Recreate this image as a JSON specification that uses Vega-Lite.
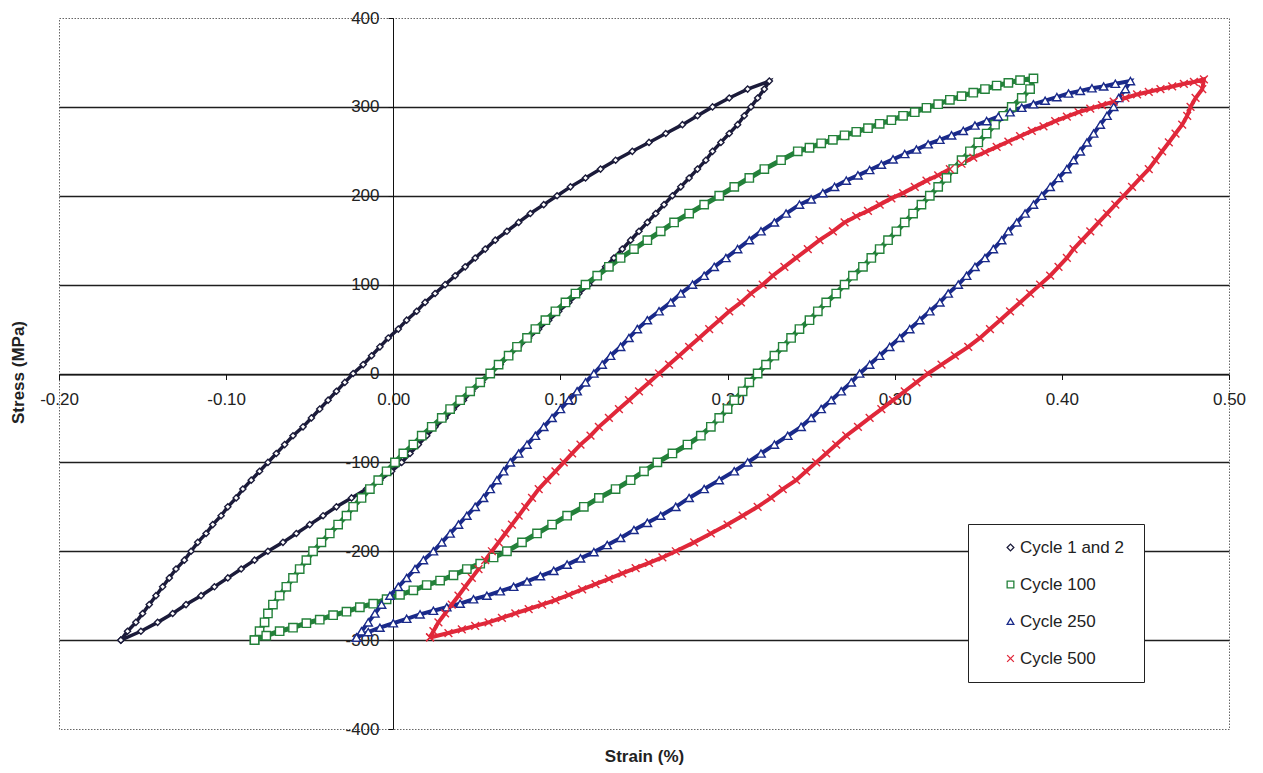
{
"$schema": "https://vega.github.io/schema/vega-lite/v6.json",
"width": 1170, "height": 711,
"autosize": {"type": "none"},
"padding": {"left": 59, "top": 18, "right": 34, "bottom": 44},
"background": "white",
"config": {
 "font": "Liberation Sans",
 "view": {"stroke": "#666", "strokeDash": [1.5, 1.5], "strokeWidth": 1},
 "axis": {"labelFont": "Liberation Sans", "titleFont": "Liberation Sans", "labelFontSize": 17, "labelColor": "#222", "titleColor": "#222", "titleFontSize": 17, "titleFontWeight": "bold"}
},
"data": {"values": [
{"c":"Cycle 1 and 2","x":-0.163,"y":-300},{"c":"Cycle 1 and 2","x":-0.159,"y":-290},{"c":"Cycle 1 and 2","x":-0.154,"y":-280},{"c":"Cycle 1 and 2","x":-0.150,"y":-270},{"c":"Cycle 1 and 2","x":-0.146,"y":-260},{"c":"Cycle 1 and 2","x":-0.142,"y":-250},{"c":"Cycle 1 and 2","x":-0.138,"y":-240},{"c":"Cycle 1 and 2","x":-0.134,"y":-230},{"c":"Cycle 1 and 2","x":-0.130,"y":-220},{"c":"Cycle 1 and 2","x":-0.125,"y":-210},{"c":"Cycle 1 and 2","x":-0.121,"y":-200},{"c":"Cycle 1 and 2","x":-0.117,"y":-190},{"c":"Cycle 1 and 2","x":-0.112,"y":-180},{"c":"Cycle 1 and 2","x":-0.108,"y":-170},{"c":"Cycle 1 and 2","x":-0.103,"y":-160},{"c":"Cycle 1 and 2","x":-0.099,"y":-150},{"c":"Cycle 1 and 2","x":-0.094,"y":-140},{"c":"Cycle 1 and 2","x":-0.090,"y":-130},{"c":"Cycle 1 and 2","x":-0.085,"y":-120},{"c":"Cycle 1 and 2","x":-0.080,"y":-110},{"c":"Cycle 1 and 2","x":-0.075,"y":-100},{"c":"Cycle 1 and 2","x":-0.070,"y":-90},{"c":"Cycle 1 and 2","x":-0.065,"y":-80},{"c":"Cycle 1 and 2","x":-0.060,"y":-70},{"c":"Cycle 1 and 2","x":-0.054,"y":-60},{"c":"Cycle 1 and 2","x":-0.049,"y":-50},{"c":"Cycle 1 and 2","x":-0.044,"y":-40},{"c":"Cycle 1 and 2","x":-0.039,"y":-30},{"c":"Cycle 1 and 2","x":-0.034,"y":-20},{"c":"Cycle 1 and 2","x":-0.029,"y":-10},{"c":"Cycle 1 and 2","x":-0.024,"y":0},{"c":"Cycle 1 and 2","x":-0.018,"y":10},{"c":"Cycle 1 and 2","x":-0.013,"y":20},{"c":"Cycle 1 and 2","x":-0.008,"y":30},{"c":"Cycle 1 and 2","x":-0.003,"y":40},{"c":"Cycle 1 and 2","x":0.003,"y":50},{"c":"Cycle 1 and 2","x":0.008,"y":60},{"c":"Cycle 1 and 2","x":0.014,"y":70},{"c":"Cycle 1 and 2","x":0.019,"y":80},{"c":"Cycle 1 and 2","x":0.025,"y":90},{"c":"Cycle 1 and 2","x":0.031,"y":100},{"c":"Cycle 1 and 2","x":0.037,"y":110},{"c":"Cycle 1 and 2","x":0.043,"y":120},{"c":"Cycle 1 and 2","x":0.049,"y":130},{"c":"Cycle 1 and 2","x":0.055,"y":140},{"c":"Cycle 1 and 2","x":0.061,"y":150},{"c":"Cycle 1 and 2","x":0.068,"y":160},{"c":"Cycle 1 and 2","x":0.075,"y":170},{"c":"Cycle 1 and 2","x":0.082,"y":180},{"c":"Cycle 1 and 2","x":0.090,"y":190},{"c":"Cycle 1 and 2","x":0.098,"y":200},{"c":"Cycle 1 and 2","x":0.106,"y":210},{"c":"Cycle 1 and 2","x":0.115,"y":220},{"c":"Cycle 1 and 2","x":0.124,"y":230},{"c":"Cycle 1 and 2","x":0.133,"y":240},{"c":"Cycle 1 and 2","x":0.143,"y":250},{"c":"Cycle 1 and 2","x":0.153,"y":260},{"c":"Cycle 1 and 2","x":0.163,"y":270},{"c":"Cycle 1 and 2","x":0.173,"y":280},{"c":"Cycle 1 and 2","x":0.182,"y":290},{"c":"Cycle 1 and 2","x":0.191,"y":300},{"c":"Cycle 1 and 2","x":0.201,"y":310},{"c":"Cycle 1 and 2","x":0.212,"y":320},{"c":"Cycle 1 and 2","x":0.225,"y":329},
{"c":"Cycle 1 and 2","x":0.222,"y":320},{"c":"Cycle 1 and 2","x":0.218,"y":310},{"c":"Cycle 1 and 2","x":0.214,"y":300},{"c":"Cycle 1 and 2","x":0.210,"y":290},{"c":"Cycle 1 and 2","x":0.206,"y":280},{"c":"Cycle 1 and 2","x":0.201,"y":270},{"c":"Cycle 1 and 2","x":0.196,"y":260},{"c":"Cycle 1 and 2","x":0.191,"y":250},{"c":"Cycle 1 and 2","x":0.187,"y":240},{"c":"Cycle 1 and 2","x":0.182,"y":230},{"c":"Cycle 1 and 2","x":0.177,"y":220},{"c":"Cycle 1 and 2","x":0.172,"y":210},{"c":"Cycle 1 and 2","x":0.167,"y":200},{"c":"Cycle 1 and 2","x":0.162,"y":190},{"c":"Cycle 1 and 2","x":0.157,"y":180},{"c":"Cycle 1 and 2","x":0.152,"y":170},{"c":"Cycle 1 and 2","x":0.147,"y":160},{"c":"Cycle 1 and 2","x":0.142,"y":150},{"c":"Cycle 1 and 2","x":0.137,"y":140},{"c":"Cycle 1 and 2","x":0.132,"y":130},{"c":"Cycle 1 and 2","x":0.127,"y":120},{"c":"Cycle 1 and 2","x":0.122,"y":110},{"c":"Cycle 1 and 2","x":0.117,"y":100},{"c":"Cycle 1 and 2","x":0.111,"y":90},{"c":"Cycle 1 and 2","x":0.105,"y":80},{"c":"Cycle 1 and 2","x":0.099,"y":70},{"c":"Cycle 1 and 2","x":0.093,"y":60},{"c":"Cycle 1 and 2","x":0.087,"y":50},{"c":"Cycle 1 and 2","x":0.081,"y":40},{"c":"Cycle 1 and 2","x":0.075,"y":30},{"c":"Cycle 1 and 2","x":0.069,"y":20},{"c":"Cycle 1 and 2","x":0.064,"y":10},{"c":"Cycle 1 and 2","x":0.058,"y":0},{"c":"Cycle 1 and 2","x":0.053,"y":-10},{"c":"Cycle 1 and 2","x":0.047,"y":-20},{"c":"Cycle 1 and 2","x":0.042,"y":-30},{"c":"Cycle 1 and 2","x":0.036,"y":-40},{"c":"Cycle 1 and 2","x":0.031,"y":-50},{"c":"Cycle 1 and 2","x":0.025,"y":-60},{"c":"Cycle 1 and 2","x":0.020,"y":-70},{"c":"Cycle 1 and 2","x":0.015,"y":-80},{"c":"Cycle 1 and 2","x":0.010,"y":-90},{"c":"Cycle 1 and 2","x":0.005,"y":-100},{"c":"Cycle 1 and 2","x":-0.001,"y":-110},{"c":"Cycle 1 and 2","x":-0.008,"y":-120},{"c":"Cycle 1 and 2","x":-0.016,"y":-130},{"c":"Cycle 1 and 2","x":-0.025,"y":-140},{"c":"Cycle 1 and 2","x":-0.034,"y":-150},{"c":"Cycle 1 and 2","x":-0.042,"y":-160},{"c":"Cycle 1 and 2","x":-0.050,"y":-170},{"c":"Cycle 1 and 2","x":-0.058,"y":-180},{"c":"Cycle 1 and 2","x":-0.066,"y":-190},{"c":"Cycle 1 and 2","x":-0.075,"y":-200},{"c":"Cycle 1 and 2","x":-0.083,"y":-210},{"c":"Cycle 1 and 2","x":-0.091,"y":-220},{"c":"Cycle 1 and 2","x":-0.099,"y":-230},{"c":"Cycle 1 and 2","x":-0.107,"y":-240},{"c":"Cycle 1 and 2","x":-0.115,"y":-250},{"c":"Cycle 1 and 2","x":-0.124,"y":-260},{"c":"Cycle 1 and 2","x":-0.132,"y":-270},{"c":"Cycle 1 and 2","x":-0.141,"y":-280},{"c":"Cycle 1 and 2","x":-0.151,"y":-290},{"c":"Cycle 1 and 2","x":-0.163,"y":-300},
{"c":"Cycle 100","x":-0.083,"y":-300},{"c":"Cycle 100","x":-0.080,"y":-290},{"c":"Cycle 100","x":-0.077,"y":-280},{"c":"Cycle 100","x":-0.075,"y":-270},{"c":"Cycle 100","x":-0.072,"y":-260},{"c":"Cycle 100","x":-0.068,"y":-250},{"c":"Cycle 100","x":-0.064,"y":-240},{"c":"Cycle 100","x":-0.060,"y":-230},{"c":"Cycle 100","x":-0.056,"y":-220},{"c":"Cycle 100","x":-0.052,"y":-210},{"c":"Cycle 100","x":-0.048,"y":-200},{"c":"Cycle 100","x":-0.043,"y":-190},{"c":"Cycle 100","x":-0.038,"y":-180},{"c":"Cycle 100","x":-0.033,"y":-170},{"c":"Cycle 100","x":-0.028,"y":-160},{"c":"Cycle 100","x":-0.024,"y":-150},{"c":"Cycle 100","x":-0.019,"y":-140},{"c":"Cycle 100","x":-0.014,"y":-130},{"c":"Cycle 100","x":-0.009,"y":-120},{"c":"Cycle 100","x":-0.004,"y":-110},{"c":"Cycle 100","x":0.001,"y":-100},{"c":"Cycle 100","x":0.006,"y":-90},{"c":"Cycle 100","x":0.012,"y":-80},{"c":"Cycle 100","x":0.017,"y":-70},{"c":"Cycle 100","x":0.023,"y":-60},{"c":"Cycle 100","x":0.029,"y":-50},{"c":"Cycle 100","x":0.034,"y":-40},{"c":"Cycle 100","x":0.040,"y":-30},{"c":"Cycle 100","x":0.046,"y":-20},{"c":"Cycle 100","x":0.052,"y":-10},{"c":"Cycle 100","x":0.058,"y":0},{"c":"Cycle 100","x":0.063,"y":10},{"c":"Cycle 100","x":0.069,"y":20},{"c":"Cycle 100","x":0.074,"y":30},{"c":"Cycle 100","x":0.080,"y":40},{"c":"Cycle 100","x":0.085,"y":50},{"c":"Cycle 100","x":0.091,"y":60},{"c":"Cycle 100","x":0.097,"y":70},{"c":"Cycle 100","x":0.103,"y":80},{"c":"Cycle 100","x":0.109,"y":90},{"c":"Cycle 100","x":0.115,"y":100},{"c":"Cycle 100","x":0.122,"y":110},{"c":"Cycle 100","x":0.129,"y":120},{"c":"Cycle 100","x":0.136,"y":130},{"c":"Cycle 100","x":0.144,"y":140},{"c":"Cycle 100","x":0.152,"y":150},{"c":"Cycle 100","x":0.160,"y":160},{"c":"Cycle 100","x":0.168,"y":170},{"c":"Cycle 100","x":0.177,"y":180},{"c":"Cycle 100","x":0.186,"y":190},{"c":"Cycle 100","x":0.195,"y":200},{"c":"Cycle 100","x":0.204,"y":210},{"c":"Cycle 100","x":0.213,"y":220},{"c":"Cycle 100","x":0.222,"y":230},{"c":"Cycle 100","x":0.232,"y":240},{"c":"Cycle 100","x":0.242,"y":250},{"c":"Cycle 100","x":0.249,"y":254},{"c":"Cycle 100","x":0.256,"y":259},{"c":"Cycle 100","x":0.263,"y":263},{"c":"Cycle 100","x":0.270,"y":268},{"c":"Cycle 100","x":0.277,"y":272},{"c":"Cycle 100","x":0.284,"y":276},{"c":"Cycle 100","x":0.291,"y":281},{"c":"Cycle 100","x":0.298,"y":285},{"c":"Cycle 100","x":0.305,"y":290},{"c":"Cycle 100","x":0.312,"y":294},{"c":"Cycle 100","x":0.319,"y":299},{"c":"Cycle 100","x":0.326,"y":303},{"c":"Cycle 100","x":0.333,"y":308},{"c":"Cycle 100","x":0.340,"y":312},{"c":"Cycle 100","x":0.347,"y":316},{"c":"Cycle 100","x":0.354,"y":320},{"c":"Cycle 100","x":0.361,"y":324},{"c":"Cycle 100","x":0.368,"y":327},{"c":"Cycle 100","x":0.375,"y":330},{"c":"Cycle 100","x":0.383,"y":332},
{"c":"Cycle 100","x":0.381,"y":320},{"c":"Cycle 100","x":0.376,"y":310},{"c":"Cycle 100","x":0.370,"y":300},{"c":"Cycle 100","x":0.365,"y":290},{"c":"Cycle 100","x":0.360,"y":280},{"c":"Cycle 100","x":0.355,"y":270},{"c":"Cycle 100","x":0.350,"y":260},{"c":"Cycle 100","x":0.345,"y":250},{"c":"Cycle 100","x":0.340,"y":240},{"c":"Cycle 100","x":0.335,"y":230},{"c":"Cycle 100","x":0.331,"y":220},{"c":"Cycle 100","x":0.326,"y":210},{"c":"Cycle 100","x":0.321,"y":200},{"c":"Cycle 100","x":0.316,"y":190},{"c":"Cycle 100","x":0.311,"y":180},{"c":"Cycle 100","x":0.306,"y":170},{"c":"Cycle 100","x":0.301,"y":160},{"c":"Cycle 100","x":0.296,"y":150},{"c":"Cycle 100","x":0.291,"y":140},{"c":"Cycle 100","x":0.286,"y":130},{"c":"Cycle 100","x":0.281,"y":120},{"c":"Cycle 100","x":0.275,"y":110},{"c":"Cycle 100","x":0.270,"y":100},{"c":"Cycle 100","x":0.265,"y":90},{"c":"Cycle 100","x":0.259,"y":80},{"c":"Cycle 100","x":0.254,"y":70},{"c":"Cycle 100","x":0.249,"y":60},{"c":"Cycle 100","x":0.243,"y":50},{"c":"Cycle 100","x":0.238,"y":40},{"c":"Cycle 100","x":0.233,"y":30},{"c":"Cycle 100","x":0.228,"y":20},{"c":"Cycle 100","x":0.223,"y":10},{"c":"Cycle 100","x":0.218,"y":0},{"c":"Cycle 100","x":0.213,"y":-10},{"c":"Cycle 100","x":0.209,"y":-20},{"c":"Cycle 100","x":0.204,"y":-30},{"c":"Cycle 100","x":0.200,"y":-40},{"c":"Cycle 100","x":0.195,"y":-50},{"c":"Cycle 100","x":0.190,"y":-60},{"c":"Cycle 100","x":0.184,"y":-70},{"c":"Cycle 100","x":0.176,"y":-80},{"c":"Cycle 100","x":0.167,"y":-90},{"c":"Cycle 100","x":0.158,"y":-100},{"c":"Cycle 100","x":0.150,"y":-110},{"c":"Cycle 100","x":0.142,"y":-120},{"c":"Cycle 100","x":0.133,"y":-130},{"c":"Cycle 100","x":0.123,"y":-140},{"c":"Cycle 100","x":0.114,"y":-150},{"c":"Cycle 100","x":0.104,"y":-160},{"c":"Cycle 100","x":0.095,"y":-170},{"c":"Cycle 100","x":0.086,"y":-180},{"c":"Cycle 100","x":0.077,"y":-190},{"c":"Cycle 100","x":0.068,"y":-200},{"c":"Cycle 100","x":0.060,"y":-207},{"c":"Cycle 100","x":0.052,"y":-214},{"c":"Cycle 100","x":0.044,"y":-220},{"c":"Cycle 100","x":0.036,"y":-227},{"c":"Cycle 100","x":0.028,"y":-233},{"c":"Cycle 100","x":0.020,"y":-238},{"c":"Cycle 100","x":0.012,"y":-244},{"c":"Cycle 100","x":0.004,"y":-249},{"c":"Cycle 100","x":-0.004,"y":-254},{"c":"Cycle 100","x":-0.012,"y":-259},{"c":"Cycle 100","x":-0.020,"y":-263},{"c":"Cycle 100","x":-0.028,"y":-268},{"c":"Cycle 100","x":-0.036,"y":-272},{"c":"Cycle 100","x":-0.044,"y":-277},{"c":"Cycle 100","x":-0.052,"y":-281},{"c":"Cycle 100","x":-0.060,"y":-286},{"c":"Cycle 100","x":-0.068,"y":-290},{"c":"Cycle 100","x":-0.076,"y":-295},{"c":"Cycle 100","x":-0.083,"y":-300},
{"c":"Cycle 250","x":-0.022,"y":-297},{"c":"Cycle 250","x":-0.019,"y":-290},{"c":"Cycle 250","x":-0.015,"y":-280},{"c":"Cycle 250","x":-0.011,"y":-270},{"c":"Cycle 250","x":-0.007,"y":-260},{"c":"Cycle 250","x":-0.002,"y":-250},{"c":"Cycle 250","x":0.003,"y":-240},{"c":"Cycle 250","x":0.008,"y":-230},{"c":"Cycle 250","x":0.013,"y":-220},{"c":"Cycle 250","x":0.018,"y":-210},{"c":"Cycle 250","x":0.024,"y":-200},{"c":"Cycle 250","x":0.029,"y":-190},{"c":"Cycle 250","x":0.034,"y":-180},{"c":"Cycle 250","x":0.039,"y":-170},{"c":"Cycle 250","x":0.044,"y":-160},{"c":"Cycle 250","x":0.049,"y":-150},{"c":"Cycle 250","x":0.054,"y":-140},{"c":"Cycle 250","x":0.058,"y":-130},{"c":"Cycle 250","x":0.062,"y":-120},{"c":"Cycle 250","x":0.066,"y":-110},{"c":"Cycle 250","x":0.070,"y":-100},{"c":"Cycle 250","x":0.075,"y":-90},{"c":"Cycle 250","x":0.080,"y":-80},{"c":"Cycle 250","x":0.085,"y":-70},{"c":"Cycle 250","x":0.090,"y":-60},{"c":"Cycle 250","x":0.095,"y":-50},{"c":"Cycle 250","x":0.100,"y":-40},{"c":"Cycle 250","x":0.105,"y":-30},{"c":"Cycle 250","x":0.110,"y":-20},{"c":"Cycle 250","x":0.115,"y":-10},{"c":"Cycle 250","x":0.120,"y":0},{"c":"Cycle 250","x":0.125,"y":10},{"c":"Cycle 250","x":0.130,"y":20},{"c":"Cycle 250","x":0.136,"y":30},{"c":"Cycle 250","x":0.141,"y":40},{"c":"Cycle 250","x":0.146,"y":50},{"c":"Cycle 250","x":0.152,"y":60},{"c":"Cycle 250","x":0.159,"y":70},{"c":"Cycle 250","x":0.166,"y":80},{"c":"Cycle 250","x":0.172,"y":90},{"c":"Cycle 250","x":0.179,"y":100},{"c":"Cycle 250","x":0.186,"y":110},{"c":"Cycle 250","x":0.192,"y":120},{"c":"Cycle 250","x":0.199,"y":130},{"c":"Cycle 250","x":0.206,"y":140},{"c":"Cycle 250","x":0.213,"y":150},{"c":"Cycle 250","x":0.220,"y":160},{"c":"Cycle 250","x":0.228,"y":170},{"c":"Cycle 250","x":0.235,"y":180},{"c":"Cycle 250","x":0.243,"y":190},{"c":"Cycle 250","x":0.250,"y":196},{"c":"Cycle 250","x":0.257,"y":203},{"c":"Cycle 250","x":0.264,"y":210},{"c":"Cycle 250","x":0.271,"y":217},{"c":"Cycle 250","x":0.278,"y":223},{"c":"Cycle 250","x":0.285,"y":229},{"c":"Cycle 250","x":0.292,"y":235},{"c":"Cycle 250","x":0.299,"y":241},{"c":"Cycle 250","x":0.306,"y":247},{"c":"Cycle 250","x":0.313,"y":252},{"c":"Cycle 250","x":0.320,"y":258},{"c":"Cycle 250","x":0.327,"y":263},{"c":"Cycle 250","x":0.334,"y":268},{"c":"Cycle 250","x":0.341,"y":273},{"c":"Cycle 250","x":0.348,"y":279},{"c":"Cycle 250","x":0.355,"y":284},{"c":"Cycle 250","x":0.362,"y":289},{"c":"Cycle 250","x":0.369,"y":294},{"c":"Cycle 250","x":0.376,"y":299},{"c":"Cycle 250","x":0.383,"y":303},{"c":"Cycle 250","x":0.390,"y":307},{"c":"Cycle 250","x":0.397,"y":311},{"c":"Cycle 250","x":0.404,"y":315},{"c":"Cycle 250","x":0.411,"y":318},{"c":"Cycle 250","x":0.418,"y":321},{"c":"Cycle 250","x":0.425,"y":323},{"c":"Cycle 250","x":0.432,"y":326},{"c":"Cycle 250","x":0.441,"y":329},
{"c":"Cycle 250","x":0.438,"y":320},{"c":"Cycle 250","x":0.434,"y":310},{"c":"Cycle 250","x":0.431,"y":300},{"c":"Cycle 250","x":0.427,"y":290},{"c":"Cycle 250","x":0.423,"y":280},{"c":"Cycle 250","x":0.419,"y":270},{"c":"Cycle 250","x":0.415,"y":260},{"c":"Cycle 250","x":0.411,"y":250},{"c":"Cycle 250","x":0.407,"y":240},{"c":"Cycle 250","x":0.403,"y":230},{"c":"Cycle 250","x":0.398,"y":220},{"c":"Cycle 250","x":0.393,"y":210},{"c":"Cycle 250","x":0.388,"y":200},{"c":"Cycle 250","x":0.383,"y":190},{"c":"Cycle 250","x":0.378,"y":180},{"c":"Cycle 250","x":0.373,"y":170},{"c":"Cycle 250","x":0.368,"y":160},{"c":"Cycle 250","x":0.364,"y":150},{"c":"Cycle 250","x":0.359,"y":140},{"c":"Cycle 250","x":0.354,"y":130},{"c":"Cycle 250","x":0.348,"y":120},{"c":"Cycle 250","x":0.343,"y":110},{"c":"Cycle 250","x":0.338,"y":100},{"c":"Cycle 250","x":0.332,"y":90},{"c":"Cycle 250","x":0.327,"y":80},{"c":"Cycle 250","x":0.321,"y":70},{"c":"Cycle 250","x":0.315,"y":60},{"c":"Cycle 250","x":0.309,"y":50},{"c":"Cycle 250","x":0.303,"y":40},{"c":"Cycle 250","x":0.297,"y":30},{"c":"Cycle 250","x":0.291,"y":20},{"c":"Cycle 250","x":0.285,"y":10},{"c":"Cycle 250","x":0.279,"y":0},{"c":"Cycle 250","x":0.274,"y":-10},{"c":"Cycle 250","x":0.268,"y":-20},{"c":"Cycle 250","x":0.262,"y":-30},{"c":"Cycle 250","x":0.256,"y":-40},{"c":"Cycle 250","x":0.250,"y":-50},{"c":"Cycle 250","x":0.244,"y":-60},{"c":"Cycle 250","x":0.236,"y":-70},{"c":"Cycle 250","x":0.228,"y":-80},{"c":"Cycle 250","x":0.220,"y":-90},{"c":"Cycle 250","x":0.212,"y":-100},{"c":"Cycle 250","x":0.204,"y":-110},{"c":"Cycle 250","x":0.195,"y":-120},{"c":"Cycle 250","x":0.186,"y":-130},{"c":"Cycle 250","x":0.177,"y":-140},{"c":"Cycle 250","x":0.169,"y":-150},{"c":"Cycle 250","x":0.160,"y":-160},{"c":"Cycle 250","x":0.152,"y":-168},{"c":"Cycle 250","x":0.144,"y":-176},{"c":"Cycle 250","x":0.136,"y":-185},{"c":"Cycle 250","x":0.128,"y":-193},{"c":"Cycle 250","x":0.120,"y":-201},{"c":"Cycle 250","x":0.112,"y":-208},{"c":"Cycle 250","x":0.104,"y":-215},{"c":"Cycle 250","x":0.096,"y":-222},{"c":"Cycle 250","x":0.088,"y":-228},{"c":"Cycle 250","x":0.080,"y":-234},{"c":"Cycle 250","x":0.072,"y":-240},{"c":"Cycle 250","x":0.064,"y":-245},{"c":"Cycle 250","x":0.056,"y":-250},{"c":"Cycle 250","x":0.048,"y":-254},{"c":"Cycle 250","x":0.040,"y":-259},{"c":"Cycle 250","x":0.032,"y":-263},{"c":"Cycle 250","x":0.024,"y":-267},{"c":"Cycle 250","x":0.016,"y":-271},{"c":"Cycle 250","x":0.008,"y":-276},{"c":"Cycle 250","x":0.000,"y":-281},{"c":"Cycle 250","x":-0.008,"y":-286},{"c":"Cycle 250","x":-0.015,"y":-291},{"c":"Cycle 250","x":-0.022,"y":-297},
{"c":"Cycle 500","x":0.022,"y":-297},{"c":"Cycle 500","x":0.024,"y":-290},{"c":"Cycle 500","x":0.027,"y":-280},{"c":"Cycle 500","x":0.031,"y":-270},{"c":"Cycle 500","x":0.035,"y":-260},{"c":"Cycle 500","x":0.039,"y":-250},{"c":"Cycle 500","x":0.043,"y":-240},{"c":"Cycle 500","x":0.047,"y":-230},{"c":"Cycle 500","x":0.051,"y":-220},{"c":"Cycle 500","x":0.055,"y":-210},{"c":"Cycle 500","x":0.059,"y":-200},{"c":"Cycle 500","x":0.063,"y":-190},{"c":"Cycle 500","x":0.067,"y":-180},{"c":"Cycle 500","x":0.071,"y":-170},{"c":"Cycle 500","x":0.075,"y":-160},{"c":"Cycle 500","x":0.079,"y":-150},{"c":"Cycle 500","x":0.083,"y":-140},{"c":"Cycle 500","x":0.087,"y":-130},{"c":"Cycle 500","x":0.092,"y":-120},{"c":"Cycle 500","x":0.097,"y":-110},{"c":"Cycle 500","x":0.102,"y":-100},{"c":"Cycle 500","x":0.107,"y":-90},{"c":"Cycle 500","x":0.112,"y":-80},{"c":"Cycle 500","x":0.118,"y":-70},{"c":"Cycle 500","x":0.123,"y":-60},{"c":"Cycle 500","x":0.129,"y":-50},{"c":"Cycle 500","x":0.135,"y":-40},{"c":"Cycle 500","x":0.141,"y":-30},{"c":"Cycle 500","x":0.147,"y":-20},{"c":"Cycle 500","x":0.153,"y":-10},{"c":"Cycle 500","x":0.159,"y":0},{"c":"Cycle 500","x":0.165,"y":10},{"c":"Cycle 500","x":0.171,"y":20},{"c":"Cycle 500","x":0.177,"y":30},{"c":"Cycle 500","x":0.183,"y":40},{"c":"Cycle 500","x":0.189,"y":50},{"c":"Cycle 500","x":0.195,"y":60},{"c":"Cycle 500","x":0.201,"y":70},{"c":"Cycle 500","x":0.208,"y":80},{"c":"Cycle 500","x":0.214,"y":90},{"c":"Cycle 500","x":0.221,"y":100},{"c":"Cycle 500","x":0.227,"y":110},{"c":"Cycle 500","x":0.234,"y":120},{"c":"Cycle 500","x":0.241,"y":130},{"c":"Cycle 500","x":0.248,"y":140},{"c":"Cycle 500","x":0.255,"y":150},{"c":"Cycle 500","x":0.263,"y":160},{"c":"Cycle 500","x":0.270,"y":170},{"c":"Cycle 500","x":0.277,"y":177},{"c":"Cycle 500","x":0.284,"y":183},{"c":"Cycle 500","x":0.291,"y":190},{"c":"Cycle 500","x":0.298,"y":197},{"c":"Cycle 500","x":0.305,"y":203},{"c":"Cycle 500","x":0.312,"y":210},{"c":"Cycle 500","x":0.319,"y":217},{"c":"Cycle 500","x":0.326,"y":223},{"c":"Cycle 500","x":0.333,"y":230},{"c":"Cycle 500","x":0.340,"y":236},{"c":"Cycle 500","x":0.347,"y":243},{"c":"Cycle 500","x":0.354,"y":249},{"c":"Cycle 500","x":0.361,"y":255},{"c":"Cycle 500","x":0.368,"y":261},{"c":"Cycle 500","x":0.375,"y":267},{"c":"Cycle 500","x":0.382,"y":273},{"c":"Cycle 500","x":0.389,"y":278},{"c":"Cycle 500","x":0.396,"y":284},{"c":"Cycle 500","x":0.403,"y":289},{"c":"Cycle 500","x":0.410,"y":294},{"c":"Cycle 500","x":0.417,"y":298},{"c":"Cycle 500","x":0.424,"y":302},{"c":"Cycle 500","x":0.431,"y":306},{"c":"Cycle 500","x":0.438,"y":310},{"c":"Cycle 500","x":0.445,"y":314},{"c":"Cycle 500","x":0.452,"y":317},{"c":"Cycle 500","x":0.459,"y":320},{"c":"Cycle 500","x":0.466,"y":323},{"c":"Cycle 500","x":0.473,"y":326},{"c":"Cycle 500","x":0.479,"y":328},{"c":"Cycle 500","x":0.485,"y":331},
{"c":"Cycle 500","x":0.484,"y":320},{"c":"Cycle 500","x":0.480,"y":310},{"c":"Cycle 500","x":0.477,"y":300},{"c":"Cycle 500","x":0.475,"y":290},{"c":"Cycle 500","x":0.472,"y":280},{"c":"Cycle 500","x":0.468,"y":270},{"c":"Cycle 500","x":0.464,"y":260},{"c":"Cycle 500","x":0.460,"y":250},{"c":"Cycle 500","x":0.456,"y":240},{"c":"Cycle 500","x":0.452,"y":230},{"c":"Cycle 500","x":0.447,"y":220},{"c":"Cycle 500","x":0.442,"y":210},{"c":"Cycle 500","x":0.437,"y":200},{"c":"Cycle 500","x":0.432,"y":190},{"c":"Cycle 500","x":0.427,"y":180},{"c":"Cycle 500","x":0.422,"y":170},{"c":"Cycle 500","x":0.417,"y":160},{"c":"Cycle 500","x":0.412,"y":150},{"c":"Cycle 500","x":0.407,"y":140},{"c":"Cycle 500","x":0.403,"y":130},{"c":"Cycle 500","x":0.398,"y":120},{"c":"Cycle 500","x":0.393,"y":110},{"c":"Cycle 500","x":0.387,"y":100},{"c":"Cycle 500","x":0.381,"y":90},{"c":"Cycle 500","x":0.375,"y":80},{"c":"Cycle 500","x":0.369,"y":70},{"c":"Cycle 500","x":0.363,"y":60},{"c":"Cycle 500","x":0.357,"y":50},{"c":"Cycle 500","x":0.351,"y":40},{"c":"Cycle 500","x":0.344,"y":30},{"c":"Cycle 500","x":0.336,"y":20},{"c":"Cycle 500","x":0.328,"y":10},{"c":"Cycle 500","x":0.320,"y":0},{"c":"Cycle 500","x":0.313,"y":-10},{"c":"Cycle 500","x":0.306,"y":-20},{"c":"Cycle 500","x":0.299,"y":-30},{"c":"Cycle 500","x":0.292,"y":-40},{"c":"Cycle 500","x":0.285,"y":-50},{"c":"Cycle 500","x":0.278,"y":-60},{"c":"Cycle 500","x":0.271,"y":-70},{"c":"Cycle 500","x":0.265,"y":-80},{"c":"Cycle 500","x":0.259,"y":-90},{"c":"Cycle 500","x":0.253,"y":-100},{"c":"Cycle 500","x":0.247,"y":-110},{"c":"Cycle 500","x":0.241,"y":-120},{"c":"Cycle 500","x":0.233,"y":-130},{"c":"Cycle 500","x":0.226,"y":-140},{"c":"Cycle 500","x":0.218,"y":-150},{"c":"Cycle 500","x":0.209,"y":-160},{"c":"Cycle 500","x":0.200,"y":-170},{"c":"Cycle 500","x":0.190,"y":-180},{"c":"Cycle 500","x":0.180,"y":-190},{"c":"Cycle 500","x":0.169,"y":-200},{"c":"Cycle 500","x":0.161,"y":-207},{"c":"Cycle 500","x":0.153,"y":-213},{"c":"Cycle 500","x":0.145,"y":-219},{"c":"Cycle 500","x":0.137,"y":-225},{"c":"Cycle 500","x":0.129,"y":-231},{"c":"Cycle 500","x":0.121,"y":-237},{"c":"Cycle 500","x":0.113,"y":-243},{"c":"Cycle 500","x":0.105,"y":-249},{"c":"Cycle 500","x":0.097,"y":-255},{"c":"Cycle 500","x":0.089,"y":-260},{"c":"Cycle 500","x":0.081,"y":-265},{"c":"Cycle 500","x":0.073,"y":-270},{"c":"Cycle 500","x":0.065,"y":-275},{"c":"Cycle 500","x":0.057,"y":-280},{"c":"Cycle 500","x":0.049,"y":-284},{"c":"Cycle 500","x":0.041,"y":-288},{"c":"Cycle 500","x":0.033,"y":-292},{"c":"Cycle 500","x":0.022,"y":-297}
]},
"encoding": {
 "x": {"field": "x", "type": "quantitative",
  "scale": {"domain": [-0.2, 0.5], "nice": false, "zero": false},
  "axis": {"orient": "bottom", "offset": -354.5, "values": [-0.2, -0.1, 0, 0.1, 0.2, 0.3, 0.4, 0.5], "format": ".2f", "labelExpr": "replace(datum.label, '\u2212', '-')", "grid": false, "labelFlush": false, "labelOverlap": false, "domainColor": "#111", "domainWidth": 1, "tickColor": "#111", "tickSize": 5, "labelPadding": 12, "title": "Strain (%)", "titleX": 585, "titleY": 374}},
 "y": {"field": "y", "type": "quantitative",
  "scale": {"domain": [-400, 400], "nice": false, "zero": false},
  "axis": {"orient": "left", "offset": -334, "values": [-400, -300, -200, -100, 0, 100, 200, 300, 400], "format": "d", "labelExpr": "replace(datum.label, '\u2212', '-')", "grid": true, "gridColor": "#1e1e1e", "gridWidth": 1.4, "gridOpacity": {"condition": {"test": "abs(datum.value) == 400", "value": 0}, "value": 1}, "labelOverlap": false, "domainColor": "#111", "domainWidth": 1, "tickColor": "#111", "tickSize": 5, "labelPadding": 9, "title": "Stress (MPa)", "titleX": -366, "titleY": 354}}
},
"layer": [
 {"mark": {"type": "line"},
  "encoding": {
   "detail": {"field": "c", "type": "nominal"},
   "stroke": {"condition": [{"test": "datum.c == 'Cycle 1 and 2'", "value": "#1b1b3a"}, {"test": "datum.c == 'Cycle 100'", "value": "#23813a"}, {"test": "datum.c == 'Cycle 250'", "value": "#1a2a8a"}], "value": "#e0283a"},
   "strokeWidth": {"condition": [{"test": "datum.c == 'Cycle 1 and 2'", "value": 3.5}, {"test": "datum.c == 'Cycle 100'", "value": 5}], "value": 4},
   "order": {"value": null}
  }},
 {"mark": {"type": "point", "filled": false, "strokeWidth": 1.4, "opacity": 1},
  "encoding": {
   "stroke": {"field": "c", "type": "nominal", "scale": {"domain": ["Cycle 1 and 2", "Cycle 100", "Cycle 250", "Cycle 500"], "range": ["#1b1b3a", "#23813a", "#1a2a8a", "#e0283a"]},
    "legend": {"title": "\u2003\u2003", "titleOrient": "right", "titleFontSize": 10, "titlePadding": 5, "orient": "none", "legendX": 909, "legendY": 506, "direction": "vertical", "strokeColor": "#222", "fillColor": "white", "padding": 15, "symbolOffset": 19, "rowPadding": 19, "labelFontSize": 17, "labelFont": "Liberation Sans", "labelColor": "#222", "symbolSize": 45, "symbolStrokeWidth": 1.3, "symbolFillColor": "white", "labelOffset": 1}},
   "shape": {"field": "c", "type": "nominal", "scale": {"domain": ["Cycle 1 and 2", "Cycle 100", "Cycle 250", "Cycle 500"], "range": ["diamond", "square", "triangle-up", "M-1,-1L1,1M-1,1L1,-1"]},
    "legend": {"title": "\u2003\u2003", "titleOrient": "right", "titleFontSize": 10, "titlePadding": 5, "orient": "none", "legendX": 909, "legendY": 506, "direction": "vertical", "strokeColor": "#222", "fillColor": "white", "padding": 15, "symbolOffset": 19, "rowPadding": 19, "labelFontSize": 17, "labelFont": "Liberation Sans", "labelColor": "#222", "symbolSize": 45, "symbolStrokeWidth": 1.3, "symbolFillColor": "white", "labelOffset": 1}},
   "size": {"condition": [{"test": "datum.c == 'Cycle 1 and 2'", "value": 38}, {"test": "datum.c == 'Cycle 100'", "value": 70}, {"test": "datum.c == 'Cycle 250'", "value": 70}], "value": 60},
   "fill": {"value": "white"}
  }}
]
}
